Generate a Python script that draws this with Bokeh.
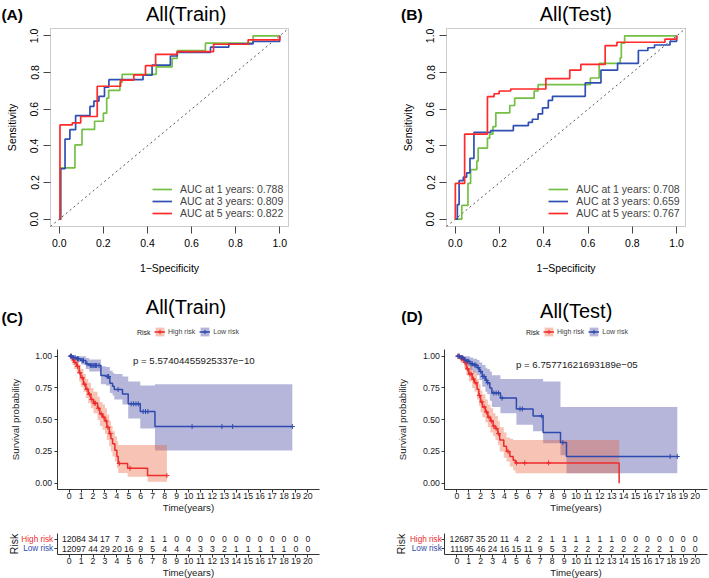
import numpy as np
from bokeh.plotting import figure
from bokeh.models import (Range1d, FixedTicker, NumeralTickFormatter, Legend,
                          LegendItem, Label, ColumnDataSource, BoxAnnotation)
from bokeh.layouts import column, row
from bokeh.embed import file_html
from bokeh.resources import INLINE
from bokeh.core.properties import value

# ---------------------------------------------------------------- data
# ROC curves (step corners: false positive rate, true positive rate)
roc_train_1y_fpr = [0, 0.006, 0.071, 0.103, 0.16, 0.2, 0.215, 0.224, 0.275, 0.285, 0.44, 0.512, 0.535, 0.663, 0.879, 1.0]
roc_train_1y_tpr = [0, 0.28, 0.405, 0.49, 0.534, 0.578, 0.66, 0.703, 0.747, 0.79, 0.831, 0.877, 0.919, 0.96, 1.0, 1.0]
roc_train_3y_fpr = [0, 0.006, 0.026, 0.048, 0.074, 0.139, 0.157, 0.18, 0.205, 0.225, 0.38, 0.421, 0.504, 0.535, 0.686, 0.769, 0.879, 1.0]
roc_train_3y_tpr = [0, 0.275, 0.437, 0.488, 0.565, 0.615, 0.644, 0.67, 0.72, 0.761, 0.785, 0.84, 0.89, 0.91, 0.938, 0.956, 0.969, 1.0]
roc_train_5y_fpr = [0, 0.003, 0.059, 0.097, 0.172, 0.278, 0.338, 0.391, 0.437, 0.535, 0.70, 0.857, 1.0]
roc_train_5y_tpr = [0, 0.514, 0.525, 0.56, 0.725, 0.758, 0.787, 0.837, 0.899, 0.914, 0.954, 0.978, 1.0]

roc_test_1y_fpr = [0, 0.029, 0.057, 0.069, 0.097, 0.103, 0.145, 0.155, 0.17, 0.183, 0.246, 0.268, 0.356, 0.374, 0.61, 0.65, 0.745, 0.75, 0.765, 1.0]
roc_test_1y_tpr = [0, 0.075, 0.195, 0.27, 0.317, 0.387, 0.442, 0.464, 0.505, 0.58, 0.62, 0.66, 0.699, 0.734, 0.77, 0.85, 0.88, 0.96, 1.0, 1.0]
roc_test_3y_fpr = [0, 0.009, 0.017, 0.036, 0.051, 0.066, 0.084, 0.16, 0.262, 0.33, 0.348, 0.374, 0.394, 0.42, 0.439, 0.587, 0.658, 0.733, 0.827, 0.87, 0.9, 0.97, 1.0]
roc_test_3y_tpr = [0, 0.079, 0.21, 0.229, 0.253, 0.332, 0.473, 0.483, 0.51, 0.528, 0.545, 0.574, 0.607, 0.648, 0.67, 0.743, 0.813, 0.85, 0.92, 0.935, 0.95, 0.97, 1.0]
roc_test_5y_fpr = [0, 0.0, 0.042, 0.145, 0.175, 0.198, 0.25, 0.409, 0.517, 0.567, 0.677, 0.73, 0.947, 1.0]
roc_test_5y_tpr = [0, 0.195, 0.464, 0.668, 0.684, 0.699, 0.71, 0.767, 0.813, 0.844, 0.947, 0.965, 0.982, 1.0]

roc_train_labels = ["AUC at 1 years: 0.788", "AUC at 3 years: 0.809", "AUC at 5 years: 0.822"]
roc_test_labels = ["AUC at 1 years: 0.708", "AUC at 3 years: 0.659", "AUC at 5 years: 0.767"]
roc_ticks = [0, 0.2, 0.4, 0.6, 0.8, 1.0]
roc_lim = [-0.04, 1.04]

# Kaplan-Meier curves (step times, survival, confidence band, censor times)
km_train_high_time = [0, 0.28, 0.42, 0.64, 0.84, 0.98, 1.2, 1.4, 1.6, 1.82, 2.04, 2.38, 2.57, 2.8, 3.0, 3.16, 3.36, 3.5, 3.64, 3.83, 4.0, 4.11, 4.9, 6.57, 8.19]
km_train_high_surv = [1.0, 0.97, 0.95, 0.92, 0.87, 0.83, 0.78, 0.74, 0.70, 0.66, 0.63, 0.59, 0.545, 0.52, 0.49, 0.44, 0.39, 0.35, 0.31, 0.26, 0.21, 0.155, 0.118, 0.06, 0.06]
km_train_high_upper = [1.0, 1.0, 0.99, 0.97, 0.93, 0.90, 0.86, 0.82, 0.79, 0.75, 0.72, 0.68, 0.64, 0.62, 0.59, 0.54, 0.49, 0.45, 0.41, 0.37, 0.33, 0.30, 0.30, 0.30, 0.30]
km_train_high_lower = [1.0, 0.93, 0.90, 0.86, 0.80, 0.76, 0.72, 0.67, 0.63, 0.59, 0.55, 0.50, 0.45, 0.42, 0.39, 0.34, 0.29, 0.25, 0.21, 0.17, 0.12, 0.08, 0.05, 0.012, 0.012]
km_train_high_censor = [0.15, 0.35, 0.5, 0.7, 0.9, 1.1, 1.3, 1.5, 1.7, 1.9, 2.1, 2.2, 2.45, 2.7, 2.9, 3.1, 3.25, 3.45, 4.2, 5.1, 8.19]

km_train_low_time = [0, 0.3, 0.6, 1.0, 1.4, 1.68, 2.66, 3.08, 3.41, 3.64, 3.78, 4.47, 4.95, 5.96, 7.19, 18.7]
km_train_low_surv = [1.0, 0.99, 0.98, 0.966, 0.94, 0.927, 0.848, 0.84, 0.787, 0.764, 0.738, 0.703, 0.625, 0.564, 0.446, 0.446]
km_train_low_upper = [1.0, 1.0, 1.0, 1.0, 0.985, 0.975, 0.92, 0.915, 0.885, 0.87, 0.86, 0.84, 0.80, 0.77, 0.78, 0.78]
km_train_low_lower = [1.0, 0.97, 0.955, 0.935, 0.90, 0.88, 0.78, 0.77, 0.71, 0.69, 0.66, 0.62, 0.51, 0.43, 0.257, 0.257]
km_train_low_censor = [0.1, 0.2, 0.35, 0.5, 0.7, 0.8, 1.1, 1.2, 1.5, 1.8, 1.9, 2.0, 2.1, 2.2, 2.3, 2.5, 3.2, 3.3, 4.1, 5.2, 5.4, 5.6, 5.8, 6.2, 6.4, 6.6, 10.3, 12.8, 13.7, 18.7]

km_test_high_time = [0, 0.3, 0.6, 0.8, 1.0, 1.29, 1.48, 1.7, 1.85, 1.99, 2.15, 2.4, 2.6, 2.82, 3.05, 3.24, 3.44, 3.6, 3.94, 4.17, 4.45, 4.73, 4.92, 13.62]
km_test_high_surv = [1.0, 0.98, 0.95, 0.90, 0.86, 0.82, 0.79, 0.74, 0.69, 0.64, 0.60, 0.56, 0.52, 0.49, 0.45, 0.43, 0.39, 0.34, 0.29, 0.25, 0.21, 0.18, 0.16, 0.0]
km_test_high_upper = [1.0, 1.0, 0.99, 0.96, 0.93, 0.89, 0.87, 0.82, 0.78, 0.73, 0.70, 0.66, 0.62, 0.59, 0.55, 0.53, 0.49, 0.44, 0.40, 0.36, 0.35, 0.34, 0.34, 0.34]
km_test_high_lower = [1.0, 0.95, 0.91, 0.85, 0.80, 0.75, 0.72, 0.66, 0.61, 0.56, 0.52, 0.48, 0.44, 0.40, 0.37, 0.34, 0.30, 0.25, 0.20, 0.17, 0.13, 0.10, 0.079, 0.079]
km_test_high_censor = [0.1, 0.2, 0.4, 0.5, 0.7, 0.9, 1.1, 1.2, 1.4, 1.6, 1.9, 2.1, 2.3, 2.5, 2.7, 2.9, 3.1, 3.3, 3.5, 4.3, 5.0, 5.7, 7.7]

km_test_low_time = [0, 0.3, 0.6, 0.8, 1.1, 1.37, 1.7, 1.9, 2.13, 2.4, 2.55, 2.77, 2.94, 3.66, 5.0, 6.4, 7.24, 8.7, 9.2, 18.5]
km_test_low_surv = [1.0, 0.99, 0.97, 0.96, 0.94, 0.93, 0.91, 0.88, 0.84, 0.81, 0.79, 0.75, 0.71, 0.67, 0.585, 0.53, 0.40, 0.32, 0.21, 0.21]
km_test_low_upper = [1.0, 1.0, 1.0, 1.0, 0.99, 0.98, 0.97, 0.95, 0.93, 0.91, 0.90, 0.88, 0.85, 0.82, 0.82, 0.82, 0.80, 0.60, 0.60, 0.60]
km_test_low_lower = [1.0, 0.97, 0.94, 0.92, 0.89, 0.87, 0.85, 0.81, 0.76, 0.72, 0.70, 0.65, 0.60, 0.55, 0.46, 0.41, 0.315, 0.22, 0.079, 0.079]
km_test_low_censor = [0.1, 0.2, 0.4, 0.5, 0.7, 0.9, 1.0, 1.2, 1.3, 1.5, 1.6, 1.8, 2.0, 2.2, 2.3, 2.5, 2.6, 3.1, 3.3, 3.5, 3.8, 5.3, 5.5, 7.1, 8.9, 17.9, 18.5]

pval_train = "p = 5.57404455925337e\u221210"
pval_test = "p = 6.75771621693189e\u221205"
km_prob_ticks = [0, 0.25, 0.5, 0.75, 1.0]
km_xlim = [-1, 21]
km_ylim = [-0.05, 1.05]

# Numbers at risk
risk_years = list(range(0, 21))
risk_train_high = [120, 84, 34, 17, 7, 3, 2, 1, 1, 0, 0, 0, 0, 0, 0, 0, 0, 0, 0, 0, 0]
risk_train_low = [120, 97, 44, 29, 20, 16, 9, 5, 4, 4, 4, 3, 3, 2, 1, 1, 1, 1, 1, 0, 0]
risk_test_high = [126, 87, 35, 20, 11, 4, 2, 2, 1, 1, 1, 1, 1, 1, 0, 0, 0, 0, 0, 0, 0]
risk_test_low = [111, 95, 46, 24, 16, 15, 11, 9, 5, 3, 2, 2, 2, 2, 2, 2, 2, 2, 1, 0, 0]
risk_rows = [2, 1]          # High risk, Low risk
risk_ylim = [0.4, 2.6]

# ---------------------------------------------------------------- style
FONT = "Liberation Sans"
ROC_COLORS = ["#74C044", "#2F4FB3", "#FF2A2A"]
RED, BLUE = "#EE2C2C", "#2E4AAE"
RED_FILL, BLUE_FILL = "#E8603C", "#2B2F95"


class Canvas:
    """A figure whose frame covers the whole canvas; `box` (page px) holds the data limits."""
    def __init__(self, ox, oy, width, height, box, xlim, ylim):
        l, t, r, b = box[0] - ox, box[1] - oy, box[2] - ox, box[3] - oy
        self.kx = (xlim[1] - xlim[0]) / (r - l)
        self.ky = (ylim[1] - ylim[0]) / (b - t)
        self.x0 = xlim[0] - l * self.kx
        self.x1 = xlim[1] + (width - r) * self.kx
        self.y1 = ylim[1] + t * self.ky
        self.y0 = ylim[0] - (height - b) * self.ky
        self.ox, self.oy, self.w, self.h = ox, oy, width, height

    def x(self, px):
        return self.x0 + (px - self.ox) * self.kx

    def y(self, py):
        return self.y1 - (py - self.oy) * self.ky

    def sx(self, px):
        return px - self.ox

    def sy(self, py):
        return self.h - (py - self.oy)

    def figure(self):
        p = figure(width=self.w, height=self.h, x_range=Range1d(self.x0, self.x1),
                   y_range=Range1d(self.y0, self.y1), output_backend="svg",
                   toolbar_location=None, min_border=0, min_border_left=0,
                   min_border_right=0, min_border_top=0, min_border_bottom=0)
        p.title.visible = False
        p.xgrid.visible = False
        p.ygrid.visible = False
        p.outline_line_color = None
        p.background_fill_color = "white"
        p.border_fill_color = "white"
        return p


def add_label(p, c, px, py, text, size, bold=False, color="#000000", align="center"):
    p.add_layout(Label(x=c.x(px), y=c.y(py), text=text, text_font=FONT,
                       text_font_size=f"{size}px",
                       text_font_style="bold" if bold else "normal",
                       text_color=color, text_align=align, text_baseline="middle"))


def style_axis(ax, tick_size, label_size, color):
    ax.major_label_text_font = FONT
    ax.major_label_text_font_size = f"{tick_size}px"
    ax.major_label_text_color = color
    ax.axis_label_text_font = FONT
    ax.axis_label_text_font_size = f"{label_size}px"
    ax.axis_label_text_font_style = "normal"
    ax.axis_label_text_color = color
    ax.minor_tick_line_color = None
    ax.major_tick_in = 0


def roc_fig(ox, width, box, curves, labels, title, title_pos, letter, letter_pos, leg_x):
    c = Canvas(ox, 0, width, 290, box, roc_lim, roc_lim)
    p = c.figure()
    p.add_layout(BoxAnnotation(left=roc_lim[0], right=roc_lim[1], bottom=roc_lim[0],
                               top=roc_lim[1], fill_alpha=0, line_color="#555555",
                               line_width=1, level="underlay"))
    for ax in (p.xaxis[0], p.yaxis[0]):
        style_axis(ax, 10.5, 10.5, "#000000")
        ax.fixed_location = roc_lim[0]
        ax.bounds = (roc_ticks[0], roc_ticks[-1])
        ax.ticker = FixedTicker(ticks=roc_ticks)
        ax.formatter = NumeralTickFormatter(format="0.0")
        ax.axis_line_color = None
        ax.major_tick_out = 7
        ax.major_tick_line_color = "#444444"
        ax.major_label_standoff = 5
    p.xaxis.axis_label = "1\u2212Specificity"
    p.xaxis.axis_label_standoff = 12
    p.yaxis.axis_label = "Sensitivity"
    p.yaxis.major_label_orientation = "vertical"
    p.yaxis.axis_label_standoff = 10
    p.line(roc_lim, roc_lim, line_color="#555555", line_dash="2 3", line_width=1)
    items = []
    for (fx, ty), col, lab in zip(curves, ROC_COLORS, labels):
        r = p.step(fx, ty, mode="after", line_color=col, line_width=1.7)
        items.append(LegendItem(label=lab, renderers=[r]))
    leg = Legend(items=items, location=(c.sx(leg_x), c.sy(box[3] - 7.5)),
                 glyph_width=20, glyph_height=12, label_height=12, label_standoff=8,
                 spacing=0, padding=0, margin=0, border_line_color=None,
                 background_fill_alpha=0, label_text_font=FONT,
                 label_text_font_size="10.5px")
    p.add_layout(leg)
    add_label(p, c, title_pos[0], title_pos[1], title, 20)
    add_label(p, c, letter_pos[0], letter_pos[1], letter, 15.5, bold=True)
    return p


def km_axes(p, xloc, yloc, ylim):
    for ax in (p.xaxis[0], p.yaxis[0]):
        style_axis(ax, 8.7, 9.7, "#1a1a1a")
        ax.axis_line_color = "#333333"
        ax.axis_line_width = 1
        ax.major_tick_out = 3
        ax.major_tick_line_color = "#333333"
    p.xaxis.fixed_location = xloc
    p.xaxis.bounds = tuple(km_xlim)
    p.xaxis.ticker = FixedTicker(ticks=risk_years)
    p.xaxis.axis_label = "Time(years)"
    p.xaxis.major_label_standoff = 0
    p.xaxis.axis_label_standoff = 0
    p.yaxis.fixed_location = yloc
    p.yaxis.bounds = tuple(ylim)


def km_fig(ox, width, box, high, low, title, title_pos, letter, letter_pos,
           risk_x, pval, pval_pos):
    c = Canvas(ox, 290, width, 230, box, km_xlim, km_ylim)
    p = c.figure()
    km_axes(p, km_ylim[0], km_xlim[0], km_ylim)
    p.yaxis.ticker = FixedTicker(ticks=km_prob_ticks)
    p.yaxis.formatter = NumeralTickFormatter(format="0.00")
    p.yaxis.axis_label = "Survival probability"
    p.yaxis.major_label_standoff = 2
    p.yaxis.axis_label_standoff = 12

    groups = [(low, BLUE, BLUE_FILL, 0.35), (high, RED, RED_FILL, 0.38)]
    rends = {}
    for (t, s, up, lo, cens), col, fill, alpha in groups:
        rends[col] = [p.varea_step(x=t, y1=lo, y2=up, step_mode="after",
                                   fill_color=fill, fill_alpha=alpha)]
    for (t, s, up, lo, cens), col, fill, alpha in groups[::-1]:
        rl = p.step(t, s, mode="after", line_color=col, line_width=1.5)
        idx = np.searchsorted(np.asarray(t), np.asarray(cens), side="right") - 1
        rc = p.scatter(cens, list(np.asarray(s)[idx]), marker="cross", size=5,
                       line_color=col, line_width=1)
        rends[col] += [rl, rc]
    leg = Legend(items=[LegendItem(label="High risk", renderers=rends[RED]),
                        LegendItem(label="Low risk", renderers=rends[BLUE])],
                 location=(c.sx(risk_x + 4), c.sy(331.7 + 5.5)), orientation="horizontal",
                 glyph_width=11, glyph_height=11, label_height=11, label_standoff=3,
                 spacing=4, padding=0, margin=0, border_line_color=None,
                 background_fill_alpha=0, label_text_font=FONT, label_text_font_size="7px")
    p.add_layout(leg)
    add_label(p, c, risk_x, 331.7, "Risk", 7, align="right", color="#1a1a1a")
    add_label(p, c, pval_pos[0], pval_pos[1], pval, 9.7, color="#1a1a1a")
    add_label(p, c, title_pos[0], title_pos[1], title, 20)
    add_label(p, c, letter_pos[0], letter_pos[1], letter, 15.5, bold=True)
    return p


def table_fig(ox, width, box, high, low, row_x):
    c = Canvas(ox, 520, width, 58, box, km_xlim, risk_ylim)
    p = c.figure()
    km_axes(p, risk_ylim[0], km_xlim[0], risk_ylim)
    p.yaxis.ticker = FixedTicker(ticks=risk_rows)
    p.yaxis.major_label_overrides = {1: "", 2: ""}
    p.yaxis.major_label_standoff = 0
    p.yaxis.axis_label = "Risk"
    p.yaxis.axis_label_text_font_size = "10.5px"
    p.yaxis.axis_label_standoff = 35
    src = ColumnDataSource(dict(x=risk_years + risk_years,
                                y=[risk_rows[0]] * len(risk_years) + [risk_rows[1]] * len(risk_years),
                                t=[str(v) for v in high + low]))
    p.text(x="x", y="y", text="t", source=src, text_font=value(FONT),
           text_font_size=value("8.7px"), text_align="center", text_baseline="middle",
           text_color="#1a1a1a")
    for yv, name, col in zip(risk_rows, ["High risk", "Low risk"], [RED, BLUE]):
        p.add_layout(Label(x=c.x(row_x), y=yv, text=name, text_font=FONT,
                           text_font_size="8.2px", text_color=col, text_align="right",
                           text_baseline="middle"))
    return p


pa = roc_fig(0, 354, (50, 28, 288, 226),
             [(roc_train_1y_fpr, roc_train_1y_tpr), (roc_train_3y_fpr, roc_train_3y_tpr),
              (roc_train_5y_fpr, roc_train_5y_tpr)],
             roc_train_labels, "All(Train)", (185.6, 13.5), "(A)", (11.7, 14), 152)
pb = roc_fig(354, 355, (446, 28, 685, 226),
             [(roc_test_1y_fpr, roc_test_1y_tpr), (roc_test_3y_fpr, roc_test_3y_tpr),
              (roc_test_5y_fpr, roc_test_5y_tpr)],
             roc_test_labels, "All(Test)", (575.3, 13.5), "(B)", (411.3, 14), 548.3)

train_high = (km_train_high_time, km_train_high_surv, km_train_high_upper, km_train_high_lower, km_train_high_censor)
train_low = (km_train_low_time, km_train_low_surv, km_train_low_upper, km_train_low_lower, km_train_low_censor)
test_high = (km_test_high_time, km_test_high_surv, km_test_high_upper, km_test_high_lower, km_test_high_censor)
test_low = (km_test_low_time, km_test_low_surv, km_test_low_upper, km_test_low_lower, km_test_low_censor)

pc = km_fig(0, 354, (56.7, 349.35, 319.3, 489.05), train_high, train_low, "All(Train)",
            (185.5, 306.5), "(C)", (11.7, 316.5), 150, pval_train, (193.3, 360))
pd_ = km_fig(354, 355, (444.4, 349.35, 706.6, 489.05), test_high, test_low, "All(Test)",
             (575.7, 310), "(D)", (411.5, 315.5), 539, pval_test, (576.3, 364))
pe = table_fig(0, 354, (56.7, 532.7, 319.3, 554.3), risk_train_high, risk_train_low, 52.7)
pf = table_fig(354, 355, (444.4, 532.7, 706.6, 554.3), risk_test_high, risk_test_low, 441.3)

layout = column(row(pa, pb), row(pc, pd_), row(pe, pf))

with open("out.html", "w") as f:
    f.write(file_html(layout, INLINE))
